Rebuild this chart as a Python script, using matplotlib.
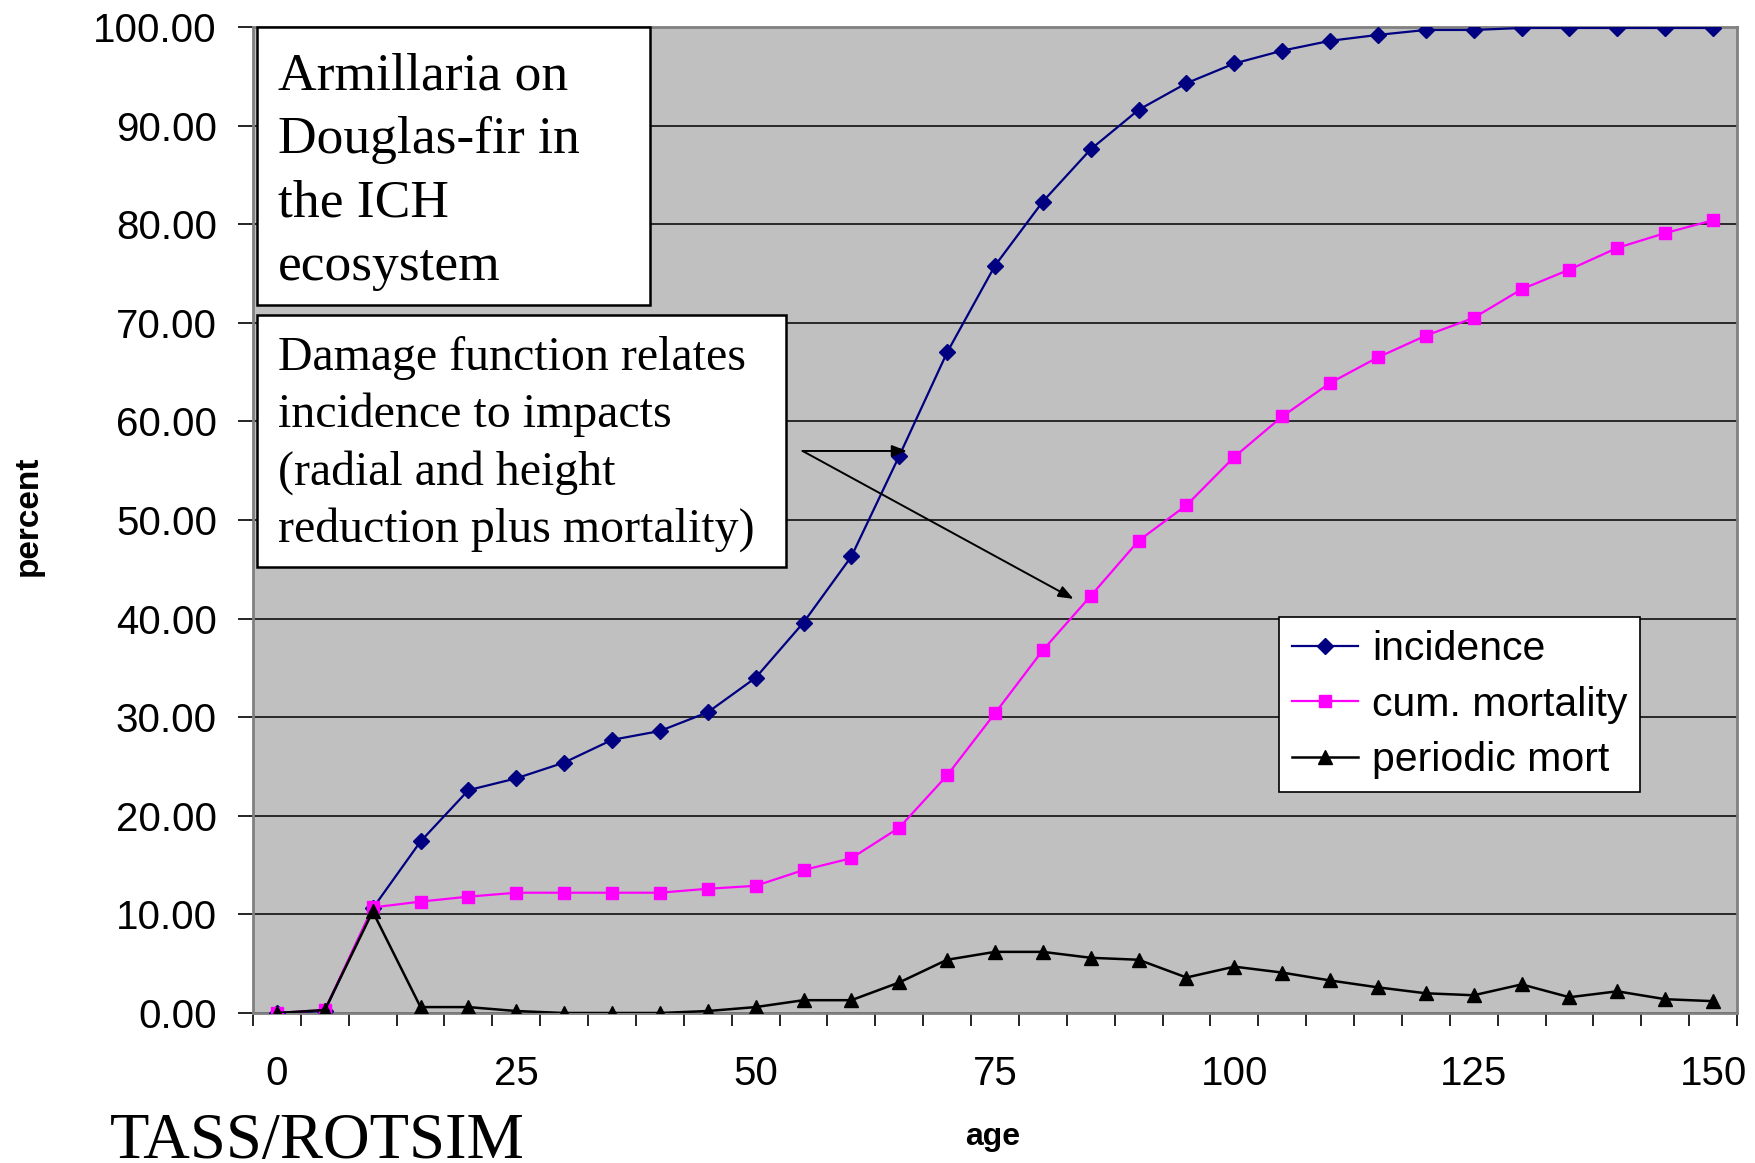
import matplotlib
matplotlib.use("Agg")
import matplotlib.pyplot as plt
from matplotlib.patches import Rectangle
import numpy as np

# ---- data ----
age = [0, 5, 10, 15, 20, 25, 30, 35, 40, 45, 50, 55, 60, 65, 70, 75, 80, 85, 90, 95,
       100, 105, 110, 115, 120, 125, 130, 135, 140, 145, 150]
incidence = [0.0, 0.2, 10.6, 17.4, 22.6, 23.8, 25.4, 27.7, 28.6, 30.5, 34.0, 39.6, 46.3,
             56.5, 67.0, 75.8, 82.3, 87.6, 91.6, 94.3, 96.3, 97.6, 98.6, 99.2, 99.7,
             99.7, 99.9, 99.9, 99.9, 99.9, 99.9]
cum_mortality = [0.0, 0.3, 10.7, 11.3, 11.8, 12.2, 12.2, 12.2, 12.2, 12.6, 12.9, 14.5,
                 15.7, 18.8, 24.1, 30.4, 36.8, 42.3, 47.9, 51.5, 56.4, 60.5, 63.9, 66.5,
                 68.7, 70.5, 73.4, 75.4, 77.6, 79.1, 80.4]
periodic_mort = [0.0, 0.3, 10.3, 0.6, 0.6, 0.2, 0.0, 0.0, 0.0, 0.2, 0.6, 1.3, 1.3, 3.1,
                 5.4, 6.2, 6.2, 5.6, 5.4, 3.6, 4.7, 4.1, 3.3, 2.6, 2.0, 1.8, 2.9, 1.6,
                 2.2, 1.4, 1.2]
series_labels = ["incidence", "cum. mortality", "periodic mort"]
x_ticklabels = [0, 25, 50, 75, 100, 125, 150]
y_ticks = [0, 10, 20, 30, 40, 50, 60, 70, 80, 90, 100]

box1_lines = ["Armillaria on", "Douglas-fir in", "the ICH", "ecosystem"]
box2_lines = ["Damage function relates", "incidence to impacts",
              "(radial and height", "reduction plus mortality)"]

W, H = 1756, 1163
SANS = ["Liberation Sans", "DejaVu Sans"]
SERIF = ["Liberation Serif", "DejaVu Serif"]

def fx(px):
    return px / W

def fy(py):
    return 1 - py / H

fig = plt.figure(figsize=(W / 100, H / 100), dpi=100)
fig.patch.set_facecolor("white")
ax = fig.add_axes([fx(253), fy(1013), fx(1737) - fx(253), fy(27) - fy(1013)])
ax.set_facecolor("#C0C0C0")

ax.plot(age, incidence, color="#000080", lw=1.6, marker="D", ms=8.5,
        mec="#000080", mfc="#000080", label=series_labels[0], zorder=4)
ax.plot(age, cum_mortality, color="#FF00FF", lw=1.6, marker="s", ms=9,
        mec="#FF00FF", mfc="#FF00FF", label=series_labels[1], zorder=4)
ax.plot(age, periodic_mort, color="black", lw=1.8, marker="^", ms=10,
        mec="black", mfc="black", label=series_labels[2], zorder=5)

ax.set_xlim(-2.5, 152.5)
ax.set_ylim(0, 100)

ax.set_yticks(y_ticks)
ax.set_yticklabels([f"{v:.2f}" for v in y_ticks], fontsize=29, family=SANS)
ax.tick_params(axis="y", direction="out", length=11, width=1.2, color="black", pad=15)

ax.set_xticks(x_ticklabels)
ax.set_xticklabels([str(v) for v in x_ticklabels], fontsize=29, family=SANS)
ax.tick_params(axis="x", which="major", length=0, pad=30)
ax.set_xticks(np.arange(-2.5, 153, 5), minor=True)
ax.tick_params(axis="x", which="minor", direction="out", length=9.5, width=1.2, color="black")

ax.yaxis.grid(True, color="black", lw=1.1)
ax.set_axisbelow(True)
for s in ax.spines.values():
    s.set_color("#808080")
    s.set_linewidth(2)

# arrows
ax.annotate("", xy=(65.8, 57.0), xytext=(54.9, 57.0),
            arrowprops=dict(arrowstyle="-|>,head_length=0.9,head_width=0.35",
                            color="black", lw=1.4, shrinkA=0, shrinkB=0), zorder=6)
ax.annotate("", xy=(83.2, 42.0), xytext=(54.9, 57.0),
            arrowprops=dict(arrowstyle="-|>,head_length=0.9,head_width=0.35",
                            color="black", lw=1.4, shrinkA=0, shrinkB=0), zorder=6)

# text boxes
def add_box(x0, y0, x1, y1):
    r = Rectangle((fx(x0), fy(y1)), fx(x1) - fx(x0), fy(y0) - fy(y1),
                  transform=fig.transFigure, facecolor="white", edgecolor="black",
                  lw=1.8, zorder=10)
    fig.add_artist(r)

add_box(257, 27, 650, 305)
for i, line in enumerate(box1_lines):
    fig.text(fx(278), fy(90 + i * 63.3), line, family=SERIF, fontsize=38.5,
             ha="left", va="baseline", zorder=11)

add_box(257, 315, 786, 567)
for i, line in enumerate(box2_lines):
    fig.text(fx(278), fy(370 + i * 57.3), line, family=SERIF, fontsize=34.5,
             ha="left", va="baseline", zorder=11)

# legend
leg = fig.legend(loc="upper left", bbox_to_anchor=(fx(1279), fy(617)),
                 bbox_transform=fig.transFigure, borderaxespad=0,
                 prop=dict(family=SANS, size=29.5), frameon=True, fancybox=False,
                 framealpha=1, edgecolor="black", borderpad=0.32, labelspacing=0.43,
                 handlelength=1.6, handletextpad=0.35)
leg.get_frame().set_linewidth(1.2)
leg.set_zorder(12)

# axis labels
fig.text(fx(28), fy(516), "percent", rotation=90, fontsize=24, fontweight="bold",
         family=SANS, ha="center", va="center")
fig.text(fx(993), fy(1137), "age", fontsize=23, fontweight="bold",
         family=SANS, ha="center", va="center")
fig.text(fx(110), fy(1158), "TASS/ROTSIM", fontsize=46.5, family=SERIF,
         ha="left", va="baseline")

fig.savefig("out.png", dpi=100)
